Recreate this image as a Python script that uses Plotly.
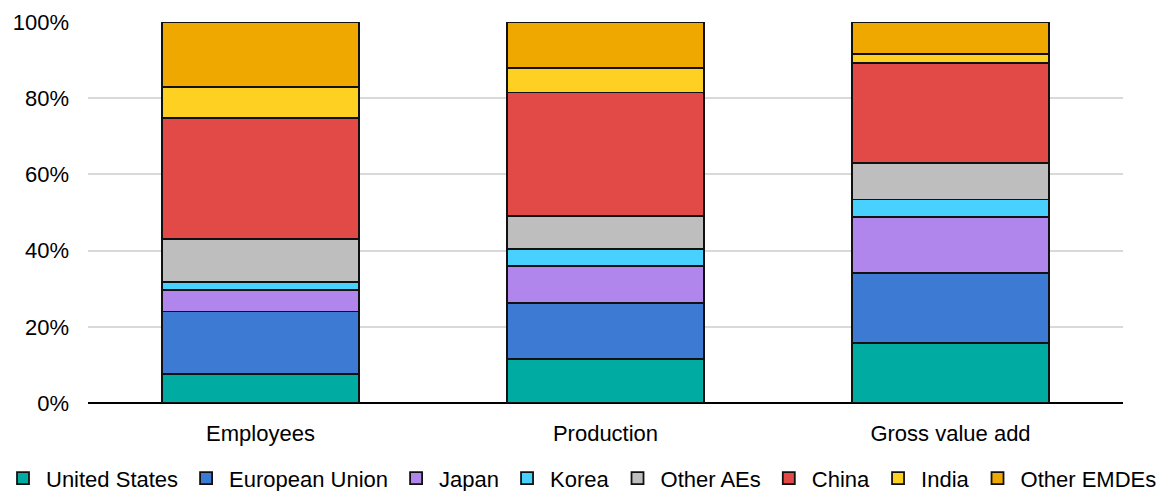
import plotly.graph_objects as go

# Share of global total by region (%)
categories = ["Employees", "Production", "Gross value add"]
regions = ["United States", "European Union", "Japan", "Korea",
           "Other AEs", "China", "India", "Other EMDEs"]
united_states = [7.7, 11.6, 15.7]
european_union = [16.3, 14.7, 18.4]
japan = [5.6, 9.6, 14.7]
korea = [2.1, 4.5, 4.6]
other_aes = [11.3, 8.6, 9.5]
china = [31.8, 32.5, 26.3]
india = [8.2, 6.4, 2.3]
other_emdes = [17.0, 12.1, 8.5]

series = [united_states, european_union, japan, korea,
          other_aes, china, india, other_emdes]
colors = ["#00ACA1", "#3D7AD3", "#B085EC", "#48D1FF",
          "#BEBEBE", "#E24A48", "#FDD021", "#EFA800"]

W, H = 1163, 491
PLOT_L, PLOT_R = 88, 1123   # horizontal extent of the plotting area (px)

fig = go.Figure()
for name, vals, col in zip(regions, series, colors):
    fig.add_trace(go.Bar(
        x=categories, y=vals, name=name,
        marker=dict(color=col, line=dict(color="#111111", width=1.8)),
        width=0.57,
    ))

font_family = "Liberation Sans, Arial, sans-serif"
fig.update_layout(
    barmode="stack",
    width=W, height=H,
    # full-width paper so the one-row legend has room; the axis domain
    # sets the plotting area instead of the side margins
    margin=dict(l=0, r=0, t=22, b=88),
    plot_bgcolor="white", paper_bgcolor="white",
    font=dict(family=font_family, size=22, color="#000000"),
    showlegend=True,
    legend=dict(
        orientation="h", xref="container", yref="container",
        x=-19 / W, xanchor="left", y=0.026, yanchor="middle",
        font=dict(size=22), traceorder="normal", itemwidth=36,
        itemclick=False, itemdoubleclick=False,
    ),
    xaxis=dict(
        domain=[PLOT_L / W, PLOT_R / W],
        showgrid=False, showline=False, ticks="",
        ticklabelstandoff=15, tickfont=dict(size=22),
    ),
    yaxis=dict(
        range=[0, 100], tickvals=[0, 20, 40, 60, 80, 100],
        ticktext=["0%", "20%", "40%", "60%", "80%", "100%"],
        showgrid=True, gridcolor="#D9D9D9", gridwidth=1.5,
        zeroline=True, zerolinecolor="#000000", zerolinewidth=2,
        showline=False, ticks="", ticklabelstandoff=18,
        tickfont=dict(size=22),
    ),
)

fig.write_html("out.html")
